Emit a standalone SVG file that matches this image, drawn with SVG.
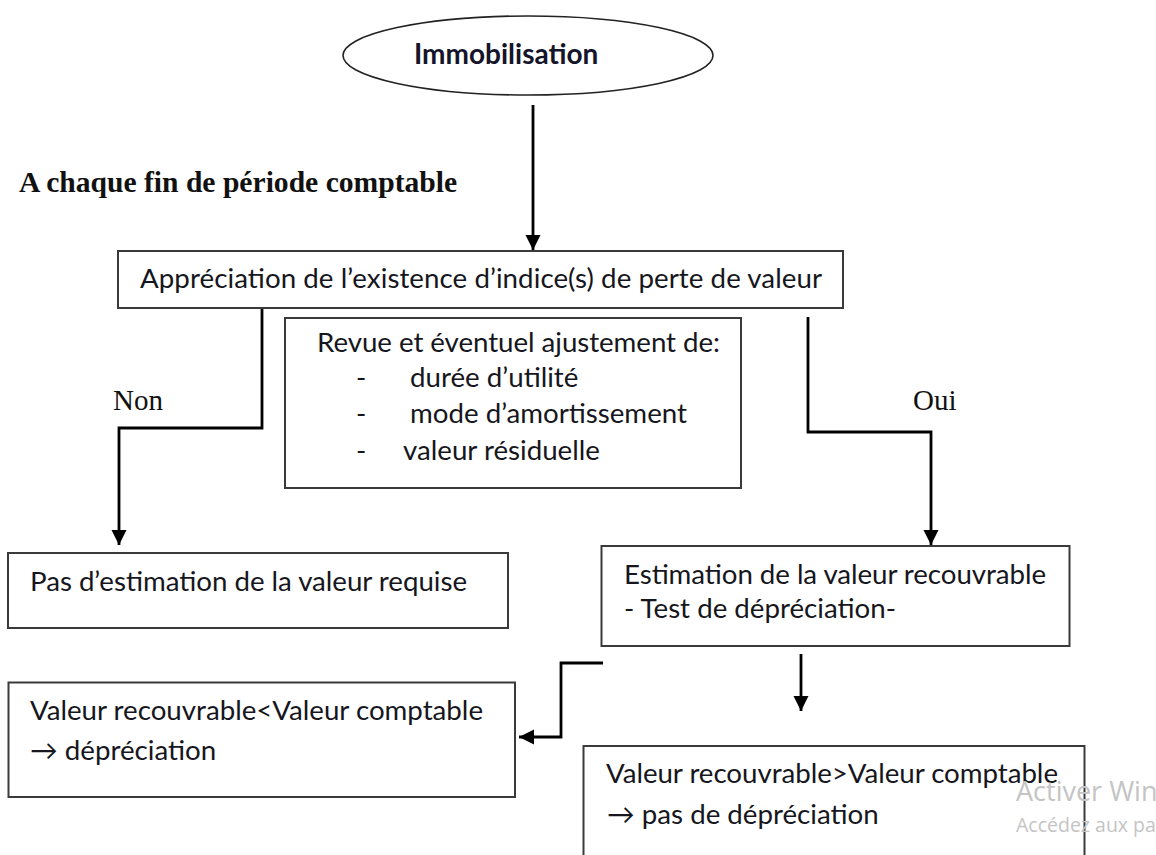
<svg xmlns="http://www.w3.org/2000/svg" width="1156" height="855" viewBox="0 0 1156 855">
<defs>
<marker id="arr" markerUnits="userSpaceOnUse" markerWidth="16" markerHeight="16" refX="15" refY="7.5" orient="auto">
<path d="M0,0 L15,7.5 L0,15 Z" fill="#000"/>
</marker>
<style>
.box{fill:#fff;stroke:#3a3a3a;stroke-width:2}
.t{font-family:Lato,"Open Sans",sans-serif;font-size:27.7px;fill:#161620}
.tb{font-family:Lato,"Open Sans",sans-serif;font-size:28px;font-weight:bold;fill:#14142a}
.s{font-family:"Liberation Serif","Times New Roman",serif;font-size:29px;fill:#111}
.sb{font-family:"Liberation Serif","Times New Roman",serif;font-size:29.6px;font-weight:bold;fill:#111}
.c{fill:none;stroke:#000;stroke-width:2.8}
.wm{font-family:"Open Sans",sans-serif;fill:#c4c4c4}
</style>
</defs>
<rect width="1156" height="855" fill="#fff"/>

<g id="connectors">
<path class="c" d="M533,105 V250" marker-end="url(#arr)"/>
<path class="c" d="M262,308 V428 H119 V545" marker-end="url(#arr)"/>
<path class="c" d="M808,317 V432 H931 V545" marker-end="url(#arr)"/>
<path class="c" d="M603,663 H561 V737 H519" marker-end="url(#arr)"/>
<path class="c" d="M801,654 V711" marker-end="url(#arr)"/>
</g>

<g id="immobilisation">
<ellipse cx="528" cy="55.5" rx="185" ry="39.5" fill="#fff" stroke="#222" stroke-width="1.6"/>
<text class="tb" x="414" y="64">Immobilisation</text>
</g>

<g id="titre">
<text class="sb" x="19" y="192">A chaque fin de période comptable</text>
</g>

<g id="appreciation">
<rect class="box" x="118" y="251" width="725" height="57"/>
<text class="t" x="140" y="288" textLength="682">Appréciation de l’existence d’indice(s) de perte de valeur</text>
</g>

<g id="revue">
<rect class="box" x="285" y="318" width="456" height="170"/>
<text class="t" x="317" y="352" textLength="403">Revue et éventuel ajustement de:</text>
<text class="t" x="356" y="387">-</text>
<text class="t" x="410" y="387">durée d’utilité</text>
<text class="t" x="356" y="423">-</text>
<text class="t" x="410" y="423">mode d’amortissement</text>
<text class="t" x="356" y="460">-</text>
<text class="t" x="403" y="460">valeur résiduelle</text>
</g>

<g id="label-non">
<text class="s" x="113" y="410">Non</text>
</g>
<g id="label-oui">
<text class="s" x="913" y="410">Oui</text>
</g>

<g id="pas-estimation">
<rect class="box" x="8" y="553" width="500" height="75"/>
<text class="t" x="30" y="591" textLength="437">Pas d’estimation de la valeur requise</text>
</g>

<g id="estimation">
<rect class="box" x="601.5" y="546" width="468" height="100"/>
<text class="t" x="624" y="584" textLength="422">Estimation de la valeur recouvrable</text>
<text class="t" x="624" y="618">- Test de dépréciation-</text>
</g>

<g id="depreciation">
<rect class="box" x="8.5" y="682.5" width="506.5" height="114.5"/>
<text class="t" x="30" y="720" textLength="453">Valeur recouvrable&lt;Valeur comptable</text>
<text class="t" x="30" y="760">→ dépréciation</text>
</g>

<g id="pas-depreciation">
<rect class="box" x="583.5" y="746" width="501" height="130"/>
<text class="t" x="606" y="783" textLength="452">Valeur recouvrable&gt;Valeur comptable</text>
<text class="t" x="607" y="824">→ pas de dépréciation</text>
</g>

<g id="watermark">
<text class="wm" x="1016" y="801" font-size="27">Activer Win</text>
<text class="wm" x="1016" y="832" font-size="19.5">Accédez aux pa</text>
</g>
</svg>
